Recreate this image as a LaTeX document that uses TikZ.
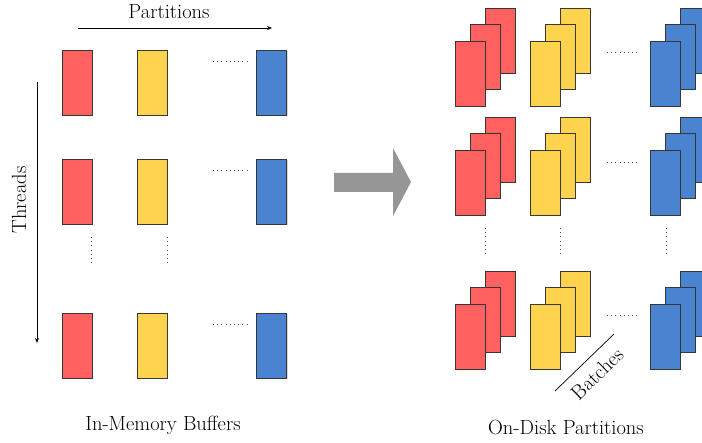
\documentclass[tikz,border=0pt]{standalone}
\usetikzlibrary{shadows,arrows.meta}
\definecolor{cred}{RGB}{255,96,96}
\definecolor{cyel}{RGB}{255,211,77}
\definecolor{cblu}{RGB}{74,132,208}
\definecolor{cedge}{RGB}{55,55,55}
\definecolor{carrow}{RGB}{150,150,150}
\begin{document}
\begin{tikzpicture}[x=1pt,y=-1pt,
  buf/.style={draw=cedge,line width=0.8pt,minimum width=30pt,minimum height=65pt,inner sep=0pt,
    drop shadow={shadow xshift=1pt,shadow yshift=-1pt,opacity=0.3}},
  rbuf/.style={buf,fill=cred},
  ybuf/.style={buf,fill=cyel},
  bbuf/.style={buf,fill=cblu},
  lbl/.style={font=\fontsize{20.5}{24}\selectfont,inner sep=0pt},
  dotsl/.style={draw=black!70,line width=0.7pt,dash pattern=on 0.7pt off 3.5pt},
  axis/.style={draw=black,line width=0.8pt,-{Stealth[length=5pt,width=4pt]}}]
\useasboundingbox (0,0) rectangle (702,443);
% left grid
\foreach \r/\y in {1/82.5,2/191.5,3/345.5}{
  \node[rbuf] (lr\r) at (77,\y) {};
  \node[ybuf] (ly\r) at (152,\y) {};
  \node[bbuf] (lb\r) at (271.5,\y) {};
}
\draw[dotsl] (213,61) -- (247,61);
\draw[dotsl] (213,170) -- (247,170);
\draw[dotsl] (213,324) -- (247,324);
\draw[dotsl] (91,237) -- (91,265);
\draw[dotsl] (167,237) -- (167,265);
% axes
\coordinate (pa) at (78,28);
\coordinate (pb) at (272,28);
\draw[axis] (pa) -- (pb);
\node[lbl] (ptxt) at (169,12) {Partitions};
\coordinate (ta) at (37,82);
\coordinate (tb) at (37,343);
\draw[axis] (ta) -- (tb);
\node[lbl,rotate=90] (ttxt) at (19,200) {Threads};
\node[lbl] (imb) at (163,425) {In-Memory Buffers};
% big arrow
\fill[carrow] (334,173) -- (393,173) -- (393,148) -- (411,182) -- (393,216) -- (393,192) -- (334,192) -- cycle;
% right stacks
\foreach \r/\y in {1/41,2/150,3/304}{
  \foreach \c/\x/\s in {r/455/rbuf,y/530/ybuf,b/650/bbuf}{
    \node[\s,anchor=north west] (s\c\r c) at (\x+30,\y-33) {};
    \node[\s,anchor=north west] (s\c\r b) at (\x+15,\y-17) {};
    \node[\s,anchor=north west] (s\c\r a) at (\x,\y) {};
  }
}
\draw[dotsl] (607,52) -- (640,52);
\draw[dotsl] (607,162) -- (640,162);
\draw[dotsl] (607,315) -- (640,315);
\draw[dotsl] (485,228) -- (485,256);
\draw[dotsl] (560,228) -- (560,256);
\draw[dotsl] (666,228) -- (666,256);
\coordinate (ba) at (555,391);
\coordinate (bb) at (614,334);
\draw[black,line width=0.7pt] (ba) -- (bb);
\node[lbl,rotate=44] (btxt) at (597,374) {Batches};
\node[lbl] (odp) at (566,428) {On-Disk Partitions};
\end{tikzpicture}
\end{document}
